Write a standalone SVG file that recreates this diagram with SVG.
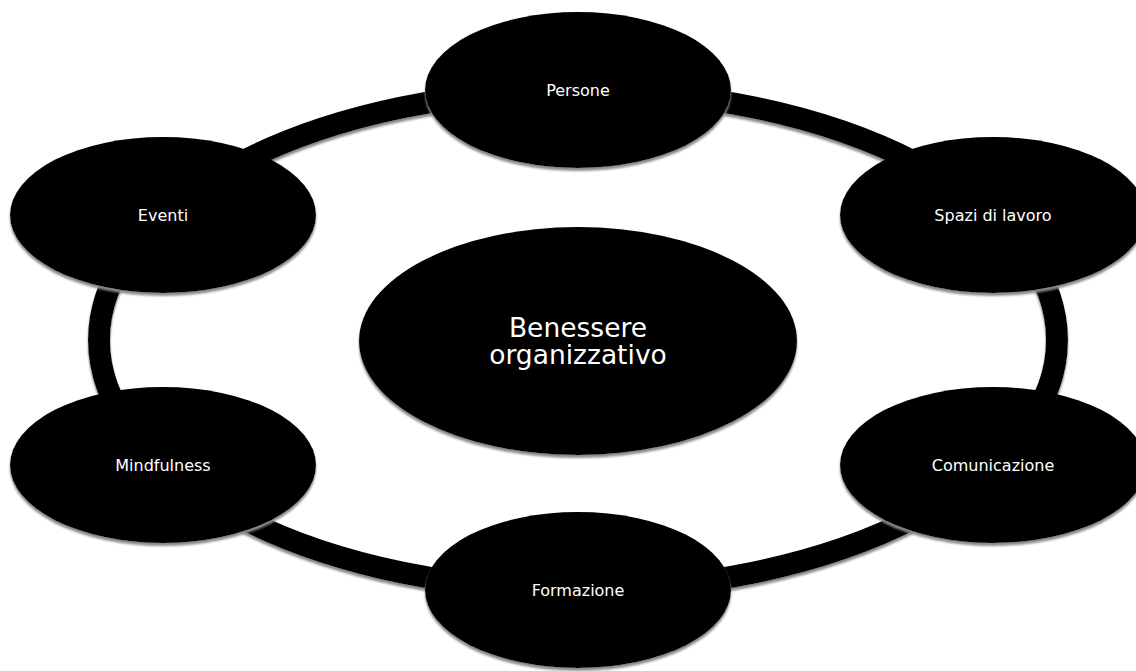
<svg xmlns="http://www.w3.org/2000/svg" width="1136" height="671" viewBox="0 0 1136 671">
<defs>
<filter id="sh" x="-10%" y="-10%" width="120%" height="125%">
<feDropShadow dx="0" dy="3" stdDeviation="0.8" flood-color="#8a8a8a" flood-opacity="1"/>
</filter>
<style>
.node{fill:#000;filter:url(#sh);}
.lbl{fill:#fff;font-family:"DejaVu Sans",sans-serif;font-size:16px;text-anchor:middle;}
.big{font-size:26.5px;}
.ring{fill:none;stroke:#000;stroke-width:22;filter:url(#sh);}
</style>
</defs>
<rect width="1136" height="671" fill="#fff"/>
<g id="connectors">
<ellipse class="ring" cx="578" cy="340" rx="479" ry="250"/>
</g>
<g id="center">
<ellipse class="node" cx="578" cy="341" rx="219" ry="114"/>
<text class="lbl big" x="578" y="337">Benessere<tspan x="578" dy="27">organizzativo</tspan></text>
</g>
<g id="persone">
<ellipse class="node" cx="578" cy="90" rx="153" ry="78"/>
<text class="lbl" x="578" y="96">Persone</text>
</g>
<g id="spazi">
<ellipse class="node" cx="993" cy="215" rx="153" ry="78"/>
<text class="lbl" x="993" y="221">Spazi di lavoro</text>
</g>
<g id="comunicazione">
<ellipse class="node" cx="993" cy="465" rx="153" ry="78"/>
<text class="lbl" x="993" y="471">Comunicazione</text>
</g>
<g id="formazione">
<ellipse class="node" cx="578" cy="590" rx="153" ry="78"/>
<text class="lbl" x="578" y="596">Formazione</text>
</g>
<g id="mindfulness">
<ellipse class="node" cx="163" cy="465" rx="153" ry="78"/>
<text class="lbl" x="163" y="471">Mindfulness</text>
</g>
<g id="eventi">
<ellipse class="node" cx="163" cy="215" rx="153" ry="78"/>
<text class="lbl" x="163" y="221">Eventi</text>
</g>
</svg>
